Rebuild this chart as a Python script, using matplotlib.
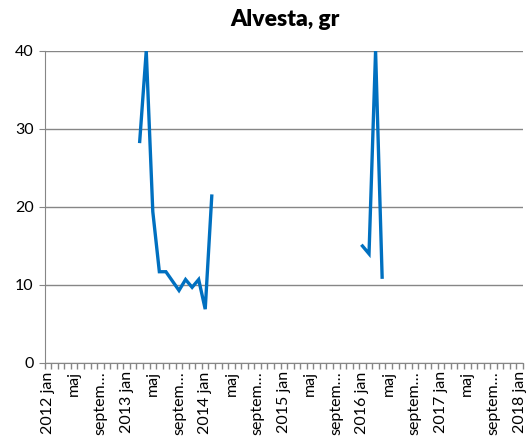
import numpy as np
import matplotlib
matplotlib.use("Agg")
import matplotlib.pyplot as plt

plt.rcParams['font.family'] = ['Lato', 'DejaVu Sans']

# kategorier: månader 2012 jan .. 2018 jan
month_names = ['jan', 'feb', 'mars', 'april', 'maj', 'juni',
               'juli', 'augusti', 'september', 'oktober', 'november', 'december']
years = [2012, 2013, 2014, 2015, 2016, 2017, 2018]
months = []
for yr in years:
    for m in month_names:
        months.append(f'{yr} {m}' if m == 'jan' else m)
months = months[:73]

# uppmätta värden (gr): index i months -> värde
obs_index = [14, 15, 16, 17, 18, 19, 20, 21, 22, 23, 24, 25,
             48, 49, 50, 51]
obs_values = [28.4, 40.0, 19.4, 11.7, 11.7, 10.5, 9.3, 10.7, 9.7, 10.7, 6.9, 21.4,
              15.0, 14.0, 40.0, 11.0]

values = np.full(len(months), np.nan)
for i, v in zip(obs_index, obs_values):
    values[i] = v

fig = plt.figure(figsize=(5.27, 4.41), dpi=100)
ax = fig.add_axes([0.0848, 0.1769, 0.9076, 0.7075])

x = np.arange(len(months))
ax.plot(x, values, color='#0070C0', lw=2.4, solid_joinstyle='miter')

ax.set_xlim(-0.5, len(months) - 0.5)
ax.set_ylim(0, 40)
ax.set_yticks([0, 10, 20, 30, 40])
ax.grid(axis='y', color='#868686', lw=1)
ax.set_axisbelow(True)

# etiketter var fjärde månad
lab_pos = x[::4]
lab_txt = [months[i] if months[i] != 'september' else 'septem…' for i in lab_pos]
ax.set_xticks(lab_pos)
ax.set_xticklabels(lab_txt, rotation=90, fontsize=11.5)
ax.tick_params(axis='x', length=0, pad=6)
ax.set_xticks(np.arange(-0.5, len(months)), minor=True)
ax.tick_params(axis='x', which='minor', length=4, color='#868686', width=1)
ax.tick_params(axis='y', length=4, color='#868686', labelsize=11.5, pad=4)

for s in ['top', 'right']:
    ax.spines[s].set_visible(False)
for s in ['left', 'bottom']:
    ax.spines[s].set_color('#868686')

fig.text(0.54, 0.955, 'Alvesta, gr', ha='center', va='center',
         fontsize=16.5, fontweight='heavy')

fig.savefig('out.png', dpi=100)
